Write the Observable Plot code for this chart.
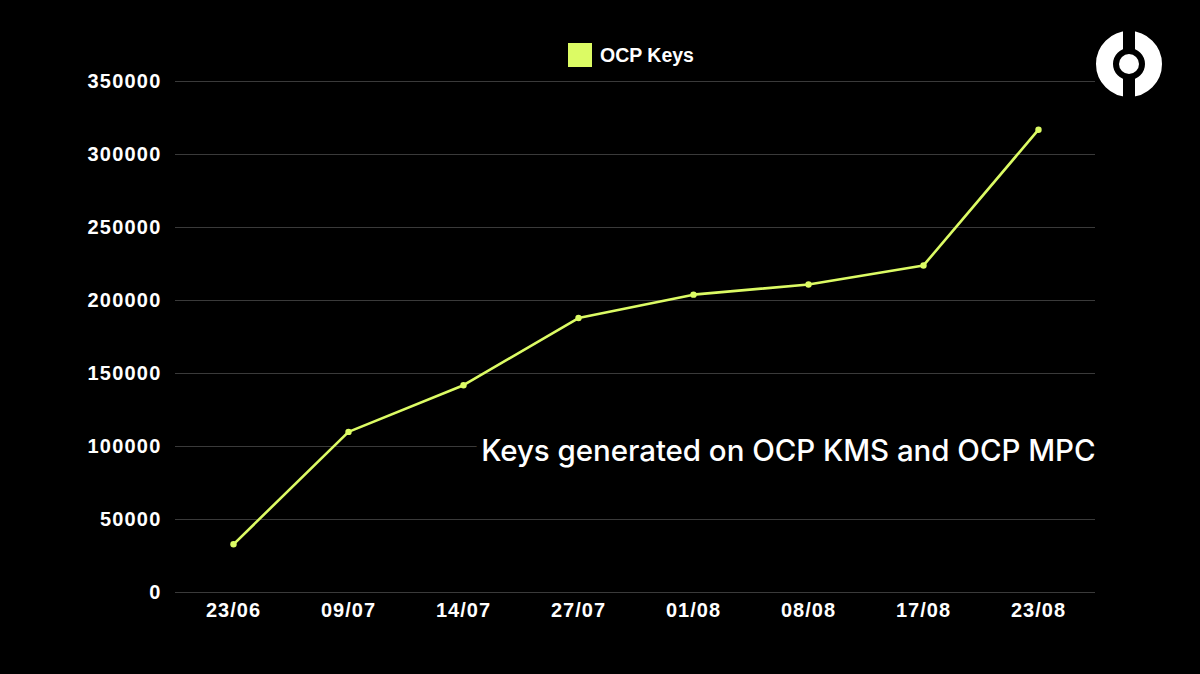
<!DOCTYPE html>
<html>
<head>
<meta charset="utf-8">
<script src="https://cdn.jsdelivr.net/npm/d3@7"></script>
<script src="https://cdn.jsdelivr.net/npm/@observablehq/plot@0.6"></script>
<style>
  html, body { margin: 0; padding: 0; background: #000; }
  #wrap { position: relative; width: 1200px; height: 674px; background: #000; overflow: hidden; }
  #legend { position: absolute; left: 568px; top: 43px; display: flex; align-items: center;
    font-family: "Liberation Sans", Arial, sans-serif; font-weight: bold; font-size: 19.5px; color: #fff; }
  #legend .sw { width: 24px; height: 24px; background: #dcfb64; margin-right: 8px; }
  #logo { position: absolute; left: 1095px; top: 31px; }
  #chart g[aria-label="y-axis tick label"] text { letter-spacing: 1.2px; }
  #chart g[aria-label="x-axis tick label"] text { letter-spacing: 1px; }
  #chart g[aria-label="text"] text { letter-spacing: -0.05px; }
</style>
</head>
<body>
<div id="wrap">
  <div id="chart"></div>
  <div id="legend"><div class="sw"></div><span>OCP Keys</span></div>
  <svg id="logo" width="70" height="70" viewBox="0 0 70 70">
    <circle cx="34" cy="33" r="24.5" fill="none" stroke="#fff" stroke-width="17"/>
    <rect x="28" y="0" width="12" height="70" fill="#000"/>
    <circle cx="34" cy="33" r="10" fill="#fff"/>
  </svg>
</div>
<script>
const dates = ["23/06", "09/07", "14/07", "27/07", "01/08", "08/08", "17/08", "23/08"];
const keys = [33000, 110000, 142000, 188000, 204000, 211000, 224000, 317000];
const yTicks = [0, 50000, 100000, 150000, 200000, 250000, 300000, 350000];
const annotation = "Keys generated on OCP KMS and OCP MPC";
const lineColor = "#dcfb64";

const data = dates.map((d, i) => ({date: d, value: keys[i]}));

const chart = Plot.plot({
  width: 1200,
  height: 674,
  marginLeft: 175,
  marginRight: 105,
  marginTop: 81,
  marginBottom: 82,
  style: {background: "#000", color: "#fff", fontFamily: "'Liberation Sans', Arial, sans-serif"},
  x: {type: "point", domain: dates, padding: 0.5, label: null},
  y: {domain: [0, 350000], label: null},
  marks: [
    Plot.ruleY(yTicks, {stroke: "#3a3a3a", strokeWidth: 1.2}),
    Plot.axisY({ticks: yTicks, tickSize: 0, tickPadding: 14, tickFormat: d => String(d),
      fontSize: 20, fontWeight: "bold", fill: "#fff"}),
    Plot.axisX({tickSize: 0, tickPadding: 10, fontSize: 20, fontWeight: "bold", fill: "#fff"}),
    Plot.line(data, {x: "date", y: "value", stroke: lineColor, strokeWidth: 2.6}),
    Plot.dot(data, {x: "date", y: "value", fill: lineColor, r: 3.2}),
    Plot.text([annotation], {frameAnchor: "right", y: 100000, text: d => d, textAnchor: "end",
      fill: "#fff", stroke: "#000", strokeWidth: 14, dy: 5, fontSize: 29.5,
      fontFamily: "Inter, sans-serif", fontWeight: 500})
  ]
});
document.getElementById("chart").appendChild(chart);
</script>
</body>
</html>
